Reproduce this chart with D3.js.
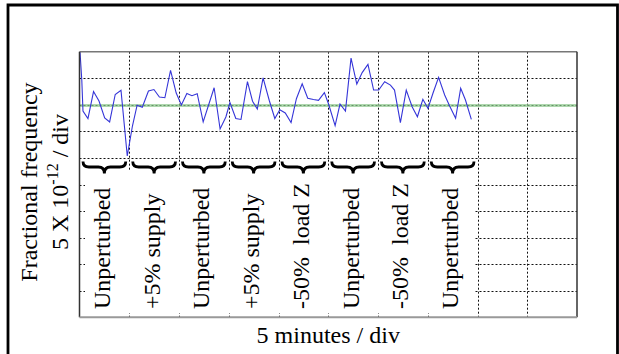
<!DOCTYPE html>
<html>
<head>
<meta charset="utf-8">
<script src="https://cdn.jsdelivr.net/npm/d3@7"></script>
<style>
  body { margin: 0; background: #fff; }
  text { font-family: "Liberation Serif", "Times New Roman", serif; fill: #000; white-space: pre; }
</style>
</head>
<body>
<div id="graph"></div>
<script>
// time in minutes, fractional frequency offset in units of 1e-12
var minutes = [0.05, 0.23, 0.35, 0.85, 1.41, 1.96, 2.53, 3.03, 3.59, 4.17, 4.80, 5.32, 5.79, 6.31, 6.93, 7.48,
  8.03, 8.58, 9.15, 9.72, 10.24, 10.79, 11.30, 11.83, 12.43, 13.53, 14.13, 14.71, 15.12, 15.71, 16.23, 16.88,
  17.39, 17.87, 18.45, 19.08, 19.63, 20.13, 20.68, 21.26, 21.80, 22.38, 22.94, 23.51, 24.02, 24.61, 25.03,
  25.69, 26.18, 26.73, 27.29, 27.87, 28.41, 28.99, 29.56, 30.07, 30.67, 31.25, 31.66, 32.25, 32.84, 33.43,
  33.96, 34.51, 35.02, 35.54, 36.09, 36.70, 37.20, 37.80, 38.31, 38.79, 39.38]
var offsets = [10.0, 4.66, -1.17, -2.58, 2.50, 0.71, -2.48, -3.23, 1.94, 2.74, -9.63, -3.99, -0.08, -0.47, 2.59, 2.88,
  1.47, 1.33, 6.47, 2.22, -0.04, 2.12, 1.71, 2.09, -3.23, 3.21, -4.55, -2.29, 0.43, -2.58, -2.76, 4.38,
  0.68, -0.79, 5.09, 0.77, -2.58, -0.94, -1.54, -3.33, 1.15, 3.97, 1.24, 1.00, 0.85, 2.31, 0.15,
  -3.93, 0.15, -1.17, 8.80, 3.91, 6.07, 7.61, 2.78, 2.78, 4.34, 3.72, 2.78, -3.37, 2.78, -0.36,
  -2.24, 1.03, -0.66, 2.27, 5.17, 1.84, -0.23, -2.54, 3.10, 0.90, -2.73]

var conditions = ['Unperturbed', '+5% supply', 'Unperturbed', '+5% supply',
  '-50%  load Z', 'Unperturbed', '-50%  load Z', 'Unperturbed']
var divMinutes = 5
var divOffset = 5
var xLabel = '5 minutes / div'
var yLabel1 = 'Fractional frequency'

var width = 619, height = 354
var svg = d3.select('#graph').append('svg')
  .attr('width', width).attr('height', height)

var x = d3.scaleLinear().domain([0, 50]).range([79.5, 577])
var y = d3.scaleLinear().domain([-40, 10]).range([317.3, 51.7])
var [x0, x1] = x.range(), [y0, y1] = y.range()

// grid
var grid = svg.append('g').attr('stroke', '#111').attr('stroke-width', 1).attr('stroke-dasharray', '2,2')
grid.selectAll('line.v').data(d3.range(divMinutes, 50, divMinutes)).join('line')
  .attr('x1', d => Math.round(x(d)) + .5).attr('x2', d => Math.round(x(d)) + .5)
  .attr('y1', y1).attr('y2', y0)
grid.selectAll('line.h').data(d3.range(-40 + divOffset, 10, divOffset)).join('line')
  .attr('y1', d => Math.round(y(d)) + .5).attr('y2', d => Math.round(y(d)) + .5)
  .attr('x1', x0).attr('x2', x1)

// reference level
svg.append('line')
  .attr('x1', x0).attr('x2', x1).attr('y1', Math.round(y(0)) + .5).attr('y2', Math.round(y(0)) + .5)
  .attr('stroke', 'rgb(140,200,140)').attr('stroke-width', 3).attr('opacity', .7)

svg.append('clipPath').attr('id', 'clip').append('rect')
  .attr('x', x0).attr('y', y1).attr('width', x1 - x0).attr('height', y0 - y1)

var trace = minutes.map((m, i) => [m, offsets[i]])
svg.append('path')
  .attr('clip-path', 'url(#clip)')
  .attr('d', d3.line().x(d => x(d[0])).y(d => y(d[1]))(trace))
  .attr('fill', 'none').attr('stroke', '#3535d8').attr('stroke-width', 1.1)

// blank box behind the condition labels
svg.append('rect')
  .attr('x', x0 + 5.5).attr('y', 171)
  .attr('width', x(conditions.length * divMinutes) - 3 - (x0 + 5.5)).attr('height', y0 - 4 - 171)
  .attr('fill', '#fff')

function brace(a, b, yt){
  var m = (a + b)/2, ya = yt + 5.5, yb = yt + 12, q = 6
  return `M${a},${yt} Q${a},${ya} ${a + q},${ya} L${m - q},${ya} Q${m},${ya} ${m},${yb}`
    + ` Q${m},${ya} ${m + q},${ya} L${b - q},${ya} Q${b},${ya} ${b},${yt}`
}

var segs = svg.selectAll('g.seg').data(conditions).join('g')
segs.append('path')
  .attr('d', (d, i) => brace(x(i*divMinutes) + 3.5, x((i + 1)*divMinutes) - 3.5, 161.5))
  .attr('fill', 'none').attr('stroke', '#000').attr('stroke-width', 2.8)
segs.append('text')
  .attr('transform', (d, i) => `translate(${x((i + .5)*divMinutes) + 5.5},309) rotate(-90)`)
  .attr('font-size', 24)
  .text(d => d)

// plot frame
var frame = svg.append('g').attr('fill', 'none')
frame.append('line').attr('x1', x0).attr('x2', x1).attr('y1', y1).attr('y2', y1).attr('stroke', '#777').attr('stroke-width', 1.6)
frame.append('line').attr('x1', x0).attr('x2', x0).attr('y1', y1).attr('y2', y0).attr('stroke', '#333').attr('stroke-width', 1.5)
frame.append('line').attr('x1', x1).attr('x2', x1).attr('y1', y1).attr('y2', y0).attr('stroke', '#333').attr('stroke-width', 1.5)
frame.append('line').attr('x1', x0).attr('x2', x1).attr('y1', y0).attr('y2', y0).attr('stroke', '#999').attr('stroke-width', 2)

// axis titles
svg.append('text')
  .attr('x', (x0 + x1)/2).attr('y', 343)
  .attr('text-anchor', 'middle').attr('font-size', 24)
  .text(xLabel)

svg.append('text')
  .attr('transform', 'translate(37,182) rotate(-90)')
  .attr('text-anchor', 'middle').attr('font-size', 24)
  .text(yLabel1)

var yl2 = svg.append('text')
  .attr('transform', 'translate(67.5,182) rotate(-90)')
  .attr('text-anchor', 'middle').attr('font-size', 24)
yl2.append('tspan').text('5 X 10')
yl2.append('tspan').attr('font-size', 16).attr('dy', -10).text('-12')
yl2.append('tspan').attr('dy', 10).text(' / div')

// outer frame
svg.append('path')
  .attr('d', `M8,${height + 5} L8,5 L617.5,5 L617.5,${height + 5}`)
  .attr('fill', 'none').attr('stroke', '#000').attr('stroke-width', 2.8)
</script>
</body>
</html>
